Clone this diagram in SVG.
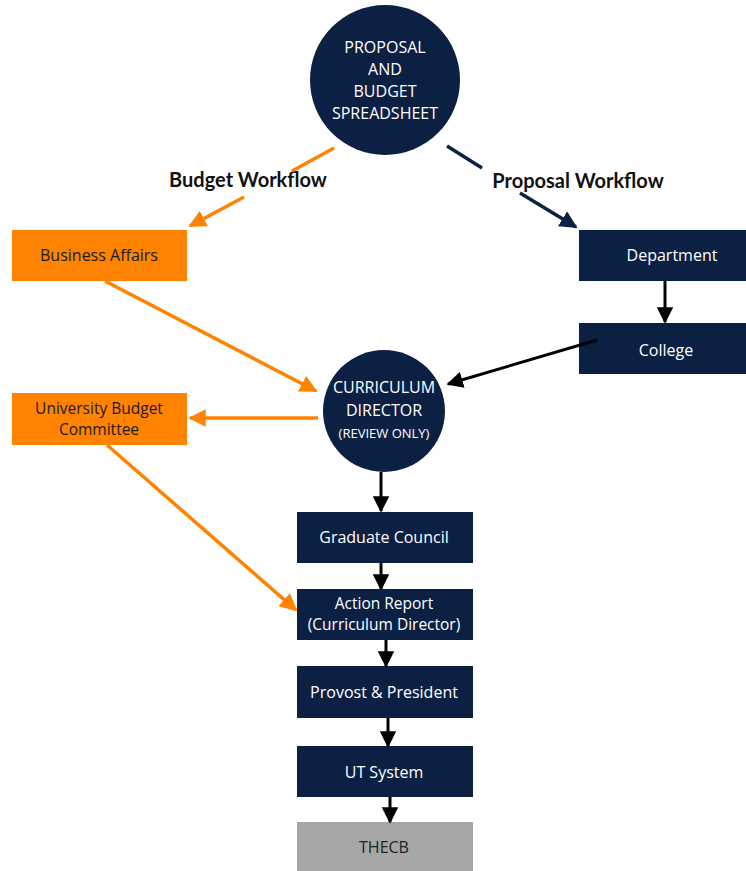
<svg xmlns="http://www.w3.org/2000/svg" width="746" height="871" viewBox="0 0 746 871">
<style>
.navy{fill:#0c2044}
.org{fill:#ff8200}
.gray{fill:#a6a6a6}
.wt{fill:#ffffff;font-family:"Open Sans","Liberation Sans",sans-serif;font-size:16px;text-anchor:middle}
.dk{fill:#1a1a1a;font-family:"Open Sans","Liberation Sans",sans-serif;font-size:16px;text-anchor:middle}
.sm{font-size:15.5px}
.lbl{fill:#111;font-family:Lato,"Liberation Sans",sans-serif;font-size:20px;font-weight:bold;text-anchor:middle}
.ck{stroke:#000;stroke-width:3;fill:none}
.co{stroke:#ff8200;stroke-width:3.5;fill:none}
.cn{stroke:#0c2044;stroke-width:3.5;fill:none}
</style>
<defs>
<marker id="ab" viewBox="0 0 10 10" refX="9" refY="5" markerWidth="5.5" markerHeight="5.5" orient="auto" markerUnits="strokeWidth"><path d="M0,0 L10,5 L0,10 z" fill="#000"/></marker>
<marker id="ao" viewBox="0 0 10 10" refX="9" refY="5" markerWidth="5" markerHeight="5" orient="auto" markerUnits="strokeWidth"><path d="M0,0 L10,5 L0,10 z" fill="#ff8200"/></marker>
<marker id="an" viewBox="0 0 10 10" refX="9" refY="5" markerWidth="5" markerHeight="5" orient="auto" markerUnits="strokeWidth"><path d="M0,0 L10,5 L0,10 z" fill="#0c2044"/></marker>
</defs>
<g id="labels">
<text class="lbl" x="248" y="187">Budget Workflow</text>
<text class="lbl" x="578" y="188">Proposal Workflow</text>
</g>
<g id="spreadsheet">
<circle class="navy" cx="385" cy="80" r="75"/>
<text class="wt" x="385" y="53">PROPOSAL</text>
<text class="wt" x="385" y="75">AND</text>
<text class="wt" x="385" y="97">BUDGET</text>
<text class="wt" x="385" y="119">SPREADSHEET</text>
</g>
<g id="business-affairs">
<rect class="org" x="12" y="230" width="175" height="51"/>
<text class="dk" x="99" y="261">Business Affairs</text>
</g>
<g id="department">
<rect class="navy" x="579" y="230" width="167" height="51"/>
<text class="wt" x="672" y="261">Department</text>
</g>
<g id="college">
<rect class="navy" x="579" y="323" width="167" height="51"/>
<text class="wt" x="666" y="356">College</text>
</g>
<g id="curriculum-director">
<circle class="navy" cx="384" cy="411" r="61"/>
<text class="wt" x="384" y="393">CURRICULUM</text>
<text class="wt" x="384" y="416">DIRECTOR</text>
<text class="wt" x="384" y="438" style="font-size:13px">(REVIEW ONLY)</text>
</g>
<g id="university-budget-committee">
<rect class="org" x="12" y="393" width="175" height="52"/>
<text class="dk sm" x="99" y="414">University Budget</text>
<text class="dk sm" x="99" y="435">Committee</text>
</g>
<g id="graduate-council">
<rect class="navy" x="297" y="512" width="176" height="51"/>
<text class="wt" x="384" y="543">Graduate Council</text>
</g>
<g id="action-report">
<rect class="navy" x="297" y="589" width="176" height="51"/>
<text class="wt sm" x="384" y="609">Action Report</text>
<text class="wt sm" x="384" y="630">(Curriculum Director)</text>
</g>
<g id="provost-president">
<rect class="navy" x="297" y="666" width="176" height="52"/>
<text class="wt" x="384" y="698">Provost &amp; President</text>
</g>
<g id="ut-system">
<rect class="navy" x="297" y="746" width="176" height="51"/>
<text class="wt" x="384" y="778">UT System</text>
</g>
<g id="thecb">
<rect class="gray" x="297" y="822" width="176" height="49"/>
<text class="dk" x="384" y="853" style="fill:#222">THECB</text>
</g>
<g id="connectors">
<path class="co" d="M334,148 L292,171"/>
<path class="co" d="M244,197 L190,226" marker-end="url(#ao)"/>
<path class="cn" d="M447,146 L482,168"/>
<path class="cn" d="M520,193 L576,227" marker-end="url(#an)"/>
<path class="ck" d="M665,281 L665,322" marker-end="url(#ab)"/>
<path class="ck" d="M597,340 L448,384" marker-end="url(#ab)"/>
<path class="co" d="M105,281 L316,391" marker-end="url(#ao)"/>
<path class="co" d="M318,418 L190,418" marker-end="url(#ao)"/>
<path class="co" d="M107,445 L296,610" marker-end="url(#ao)"/>
<path class="ck" d="M381,472 L381,511" marker-end="url(#ab)"/>
<path class="ck" d="M381,563 L381,589" marker-end="url(#ab)"/>
<path class="ck" d="M386,640 L386,666" marker-end="url(#ab)"/>
<path class="ck" d="M388,718 L388,746" marker-end="url(#ab)"/>
<path class="ck" d="M390,797 L390,822" marker-end="url(#ab)"/>
</g>
</svg>
